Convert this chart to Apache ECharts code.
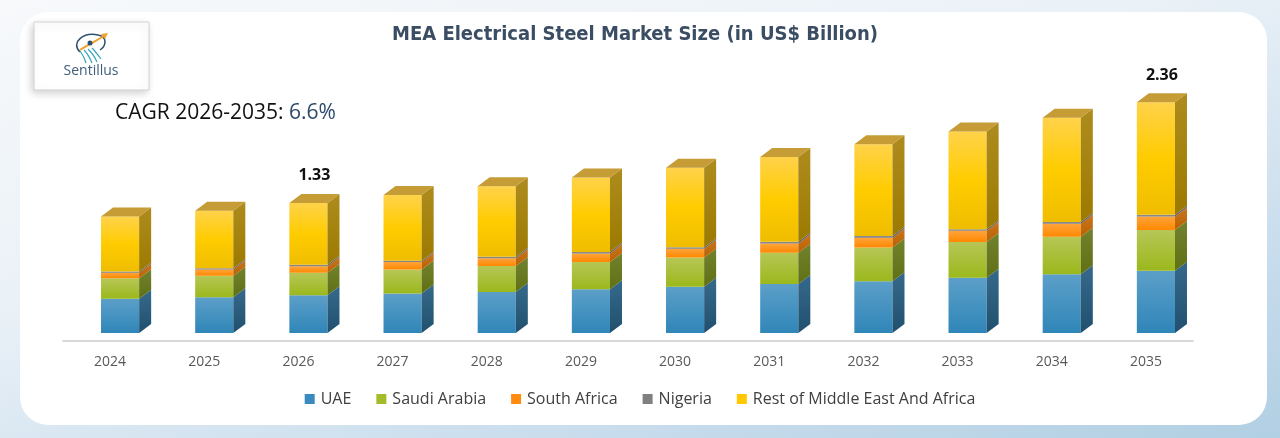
<!DOCTYPE html>
<html>
<head>
<meta charset="utf-8">
<script src="https://cdn.jsdelivr.net/npm/echarts@6/dist/echarts.min.js"></script>
<title>MEA Electrical Steel Market Size</title>
<style>
  html, body { margin: 0; padding: 0; }
  body {
    width: 1280px; height: 438px; overflow: hidden; position: relative;
    background: linear-gradient(165deg, #f7f9fb 0%, #eaf1f7 40%, #c9dded 75%, #b1cfe3 100%);
  }
  #card {
    position: absolute; left: 20px; top: 12px; width: 1247px; height: 413px;
    background: #fff; border-radius: 28px;
  }
  #main { position: absolute; left: 0; top: 0; width: 1280px; height: 438px; }
</style>
</head>
<body>
<div id="card"></div>
<div id="main"></div>
<script type="text/javascript">
// data (US$ billion)
var years = ['2024', '2025', '2026', '2027', '2028', '2029', '2030', '2031', '2032', '2033', '2034', '2035'];
var uae = [0.350, 0.365, 0.385, 0.405, 0.420, 0.447, 0.473, 0.500, 0.530, 0.565, 0.600, 0.637];
var saudiArabia = [0.210, 0.220, 0.230, 0.245, 0.265, 0.280, 0.300, 0.320, 0.345, 0.365, 0.385, 0.415];
var southAfrica = [0.057, 0.065, 0.068, 0.075, 0.079, 0.086, 0.088, 0.096, 0.100, 0.115, 0.132, 0.138];
var nigeria = [0.013, 0.013, 0.014, 0.014, 0.015, 0.015, 0.016, 0.016, 0.017, 0.017, 0.018, 0.018];
var restOfMea = [0.560, 0.587, 0.633, 0.671, 0.721, 0.762, 0.813, 0.868, 0.938, 0.998, 1.065, 1.152];
var labelledYears = ['2026', '2035'];

var seriesNames = ['UAE', 'Saudi Arabia', 'South Africa', 'Nigeria', 'Rest of Middle East And Africa'];
var seriesValues = [uae, saudiArabia, southAfrica, nigeria, restOfMea];

// face colours: front gradient (top, bottom), side gradient, legend colour
var faces = [
  { front: ['#5c9fc9', '#2f86b8'], side: ['#35698b', '#21506e'], legend: '#3a8abf' },
  { front: ['#b7c656', '#9bb81c'], side: ['#72822e', '#5f7014'], legend: '#a2bc2a' },
  { front: ['#ffa43a', '#ff8800'], side: ['#c9751e', '#b86200'], legend: '#ff8c10' },
  { front: ['#909090', '#7a7a7a'], side: ['#6a6a6a', '#5a5a5a'], legend: '#808080' },
  { front: ['#ffd24a', '#ffcc00', '#efbd00'], side: ['#ad8c1e', '#9c7a00'], legend: '#ffc800' }
];
var topFace = '#c59c35';

var chart = echarts.init(document.getElementById('main'));

// stack the segments
var base = years.map(function () { return 0; });
var stacked = seriesValues.map(function (vals) {
  return vals.map(function (v, k) {
    var item = [k, base[k], base[k] + v];
    base[k] += v;
    return item;
  });
});
var totals = base.slice();

var OX = 10, OY = -8;   // bar set back into the floor
var DX = 12, DY = -9;   // depth of each box

function gradient(cols) {
  var stops = cols.map(function (c, i) { return { offset: i / (cols.length - 1), color: c }; });
  return { type: 'linear', x: 0, y: 0, x2: 0, y2: 1, colorStops: stops };
}

function makeRender(si) {
  var isTop = si === seriesValues.length - 1;
  return function (params, api) {
    var k = api.value(0);
    var p0 = api.coord([k, api.value(1)]);
    var p1 = api.coord([k, api.value(2)]);
    var bw = api.size([1, 0])[0] * 0.405;
    var x0 = p0[0] + OX - bw / 2, x1 = x0 + bw;
    var yb = p0[1] + OY, yt = p1[1] + OY;
    var f = faces[si];
    var children = [
      { type: 'rect', shape: { x: x0, y: yt, width: bw, height: yb - yt },
        style: { fill: gradient(f.front) } },
      { type: 'polygon', shape: { points: [[x1, yb], [x1 + DX, yb + DY], [x1 + DX, yt + DY], [x1, yt]] },
        style: { fill: gradient(f.side) } }
    ];
    if (isTop) {
      children.push({ type: 'polygon',
        shape: { points: [[x0, yt], [x0 + DX, yt + DY], [x1 + DX, yt + DY], [x1, yt]] },
        style: { fill: topFace } });
      if (labelledYears.indexOf(years[k]) >= 0) {
        children.push({ type: 'text',
          style: { text: totals[k].toFixed(2), x: x0 + bw / 2 + DX / 2, y: yt + DY - 18,
            align: 'center', verticalAlign: 'middle', fill: '#111',
            font: 'bold 16px "Open Sans", sans-serif' } });
      }
    }
    return { type: 'group', children: children };
  };
}

var series = seriesNames.map(function (name, si) {
  return {
    name: name,
    type: 'custom',
    renderItem: makeRender(si),
    itemStyle: { color: faces[si].legend },
    encode: { x: 0, y: [1, 2] },
    clip: false,
    data: stacked[si]
  };
});

function curve(x1, y1, c1x, c1y, c2x, c2y, x2, y2, color, w) {
  return { type: 'bezierCurve',
    shape: { x1: x1, y1: y1, cpx1: c1x, cpy1: c1y, cpx2: c2x, cpy2: c2y, x2: x2, y2: y2 },
    style: { fill: null, stroke: color, lineWidth: w } };
}

var option = {
  animation: false,
  grid: { left: 63, right: 87, top: 96.5, bottom: 97 },
  xAxis: {
    type: 'category',
    data: years,
    axisLine: { lineStyle: { color: '#d9d9d9', width: 2 } },
    axisTick: { show: false },
    axisLabel: { color: '#595959', fontSize: 14, margin: 14, fontFamily: 'Open Sans' }
  },
  yAxis: { type: 'value', min: 0, max: 2.5, show: false },
  legend: {
    data: seriesNames,
    icon: 'rect',
    itemWidth: 10, itemHeight: 10,
    itemGap: 25,
    left: 'center',
    top: 386,
    textStyle: { color: '#404040', fontSize: 16, fontFamily: 'Open Sans', padding: [0, 0, 0, 1] }
  },
  graphic: [
    { type: 'text', x: 635, y: 35,
      style: { text: 'MEA Electrical Steel Market Size (in US$ Billion)', fill: '#3b4d63',
        align: 'center', verticalAlign: 'middle',
        font: 'bold 20px "Liberation Sans Narrow", "DejaVu Sans Condensed", sans-serif' } },
    { type: 'text', x: 115, y: 113,
      style: { text: '{a|CAGR 2026-2035: }{b|6.6%}', verticalAlign: 'middle',
        rich: {
          a: { fill: '#111', fontSize: 21, fontFamily: 'Open Sans' },
          b: { fill: '#2c4a6b', fontSize: 21, fontFamily: 'Open Sans' }
        } } },
    // logo box
    { type: 'rect', shape: { x: 34, y: 22, width: 115, height: 68 },
      style: { fill: '#fff', stroke: '#d2d2d2', lineWidth: 1,
        shadowBlur: 8, shadowColor: 'rgba(0,0,0,0.18)', shadowOffsetX: -2, shadowOffsetY: 3 } },
    curve(80, 52, 70, 42, 84, 32, 98, 35, '#2f4f6f', 1.5),
    curve(98, 35, 108, 37, 106, 46, 100, 50, '#2f4f6f', 1.5),
    curve(80, 50, 86, 46, 94, 42, 104, 36, '#f2a12a', 2),
    { type: 'polygon', shape: { points: [[101, 34], [108, 33], [105, 39]] }, style: { fill: '#f2a12a' } },
    curve(80, 51, 83, 55, 85, 59, 86, 63, '#39a7b8', 1.2),
    curve(84, 50, 88, 54, 90, 58, 92, 63, '#39a7b8', 1.2),
    curve(88, 49, 92, 53, 95, 57, 97, 62, '#39a7b8', 1.2),
    curve(92, 48, 95, 51, 98, 55, 101, 59, '#39a7b8', 1.2),
    { type: 'circle', shape: { cx: 90, cy: 43, r: 2.5 }, style: { fill: '#2f4f6f' } },
    { type: 'text', x: 91, y: 71,
      style: { text: 'Sentillus', fill: '#3e5d7a', align: 'center', verticalAlign: 'middle',
        font: '14px "Open Sans", sans-serif' } }
  ],
  series: series
};

chart.setOption(option);
</script>
</body>
</html>
